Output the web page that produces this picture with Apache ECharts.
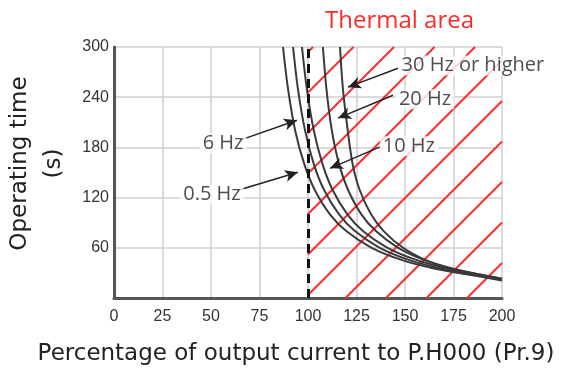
<!DOCTYPE html>
<html>
<head>
<meta charset="utf-8">
<script src="https://cdn.jsdelivr.net/npm/echarts@6/dist/echarts.min.js"></script>
<style>
  html, body { margin: 0; padding: 0; background: #fff; }
  #main { width: 584px; height: 368px; }
</style>
</head>
<body>
<div id="main"></div>
<script>
// percent of output current vs operating time (s)
var curve05Hz = [[87.1,300],[89.7,250],[93.4,200],[98.1,160],[103.3,130],[111.3,100],[119.7,80],[132.8,60],[148.9,45],[165.6,35],[182.5,28],[200,21]];
var curve6Hz  = [[92.3,300],[94.8,250],[98.5,200],[103,160],[108.1,130],[116,100],[124.2,80],[137,60],[152.7,45],[169.1,35],[185.6,28],[200,22]];
var curve10Hz = [[96.9,300],[99.4,250],[103,200],[107.5,160],[112.5,130],[120.3,100],[128.3,80],[141,60],[156.5,45],[172.6,35],[188,28],[200,23]];
var curve20Hz = [[107.7,300],[109.5,250],[112.3,200],[116,160],[120.5,130],[127.5,100],[135,80],[146.5,60],[160.5,45],[175,35],[189,28],[200,23]];
var curve30Hz = [[116.5,300],[118,250],[120.5,200],[123,160],[126.5,130],[132.5,100],[139,80],[149,60],[161,45],[174,35],[188,27.5],[200,22.5]];

var curveNames = ['0.5 Hz', '6 Hz', '10 Hz', '20 Hz', '30 Hz or higher'];
var curveData = [curve05Hz, curve6Hz, curve10Hz, curve20Hz, curve30Hz];

// label centre, arrow start, arrow tip (x %, y s)
var labelPos   = [[50.5,124],[56.2,185],[152,181.5],[160.3,237.6],[185,278]];
var arrowStart = [[64.4,129],[65,188.7],[137.1,180.7],[143.8,242.4],[146.4,274.6]];
var arrowEnd   = [[94.8,150.4],[94.3,212.5],[111.3,155],[115.5,215],[120.6,252]];

var xTicks = [0, 200, 25];
var yTicks = [0, 300, 60];
var thermalLimit = 100;   // rated current line
var hatchRange = [100, 200];

var myChart = echarts.init(document.getElementById('main'));

function renderHatch(params, api) {
	var bl = api.coord([hatchRange[0], yTicks[0]]);
	var tr = api.coord([hatchRange[1], yTicks[1]]);
	var x0 = bl[0], yB = bl[1], x1 = tr[0], yT = tr[1];
	var step = 40.5;
	var c = x0 + yB - 3;
	while (c - step > x0 + yT) c -= step;
	var lines = [];
	for (; c < x1 + yB; c += step) {
		var xa = Math.max(x0, c - yB), xb = Math.min(x1, c - yT);
		if (xb - xa < 1) continue;
		lines.push({
			type: 'line',
			shape: { x1: xa, y1: c - xa, x2: xb, y2: c - xb },
			style: { stroke: '#ff2a2a', lineWidth: 2 }
		});
	}
	return { type: 'group', children: lines };
}

var series = [{
	type: 'custom',
	name: 'hatch',
	renderItem: renderHatch,
	data: [[hatchRange[0], yTicks[1]]],
	silent: true,
	z: 1
}];

for (var i = 0; i < curveData.length; i++) {
	series.push({
		type: 'line',
		name: curveNames[i],
		data: curveData[i],
		smooth: 0.3,
		showSymbol: false,
		lineStyle: { color: '#3a3a3a', width: 2 },
		z: 3,
		markLine: {
			silent: true,
			symbol: ['none', 'arrow'],
			symbolSize: [9, 13],
			label: { show: false },
			lineStyle: { color: '#222', width: 1.5, type: 'solid' },
			data: [[{ coord: arrowStart[i] }, { coord: arrowEnd[i] }]]
		}
	});
}

// dashed line at 100 %
series.push({
	type: 'line',
	name: 'limit',
	data: [],
	z: 4,
	markLine: {
		silent: true,
		symbol: ['none', 'none'],
		label: { show: false },
		lineStyle: { color: '#111', width: 3, type: [9, 6] },
		data: [[{ coord: [thermalLimit, yTicks[0]] }, { coord: [thermalLimit, yTicks[1]] }]]
	}
});

// curve labels
series.push({
	type: 'scatter',
	name: 'labels',
	symbolSize: 0,
	z: 6,
	silent: true,
	data: labelPos.map(function (p, i) { return { value: p, name: curveNames[i] }; }),
	label: {
		show: true,
		position: 'inside',
		formatter: '{b}',
		color: '#222',
		fontSize: 20,
		fontFamily: 'Open Sans',
		backgroundColor: '#fff',
		padding: [0, 3]
	}
});

var option = {
	animation: false,
	title: {
		text: 'Thermal area',
		left: 320,
		top: 4,
		textStyle: { color: '#ff2a2a', fontSize: 24, fontWeight: 'normal', fontFamily: 'Open Sans' }
	},
	grid: { left: 114, right: 82, top: 47, bottom: 70, containLabel: false, outerBoundsMode: 'none' },
	xAxis: {
		type: 'value',
		min: xTicks[0], max: xTicks[1], interval: xTicks[2],
		name: 'Percentage of output current to P.H000 (Pr.9)',
		nameLocation: 'middle',
		nameGap: 45,
		nameTextStyle: { fontSize: 23, color: '#222', fontFamily: 'DejaVu Sans', padding: [0, 24, 0, 0] },
		axisLine: { lineStyle: { color: '#555', width: 3 } },
		axisTick: { show: false },
		axisLabel: { color: '#333', fontSize: 16, margin: 11, fontFamily: 'Liberation Sans' },
		splitLine: { show: true, lineStyle: { color: '#cfcfcf', width: 1.5 } }
	},
	yAxis: {
		type: 'value',
		min: yTicks[0], max: yTicks[1], interval: yTicks[2],
		name: 'Operating time\n(s)',
		nameLocation: 'middle',
		nameRotate: 90,
		nameGap: 33,
		nameTextStyle: { fontSize: 23, color: '#222', fontFamily: 'DejaVu Sans', lineHeight: 34, padding: [0, 0, 0, 18] },
		axisLine: { show: true, lineStyle: { color: '#555', width: 3 } },
		axisTick: { show: false },
		axisLabel: {
			color: '#333', fontSize: 16, margin: 5, fontFamily: 'Liberation Sans',
			formatter: function (v) { return v === 0 ? '' : v; }
		},
		splitLine: { show: true, lineStyle: { color: '#cfcfcf', width: 1.5 } }
	},
	series: series
};
myChart.setOption(option, true);
</script>
</body>
</html>
